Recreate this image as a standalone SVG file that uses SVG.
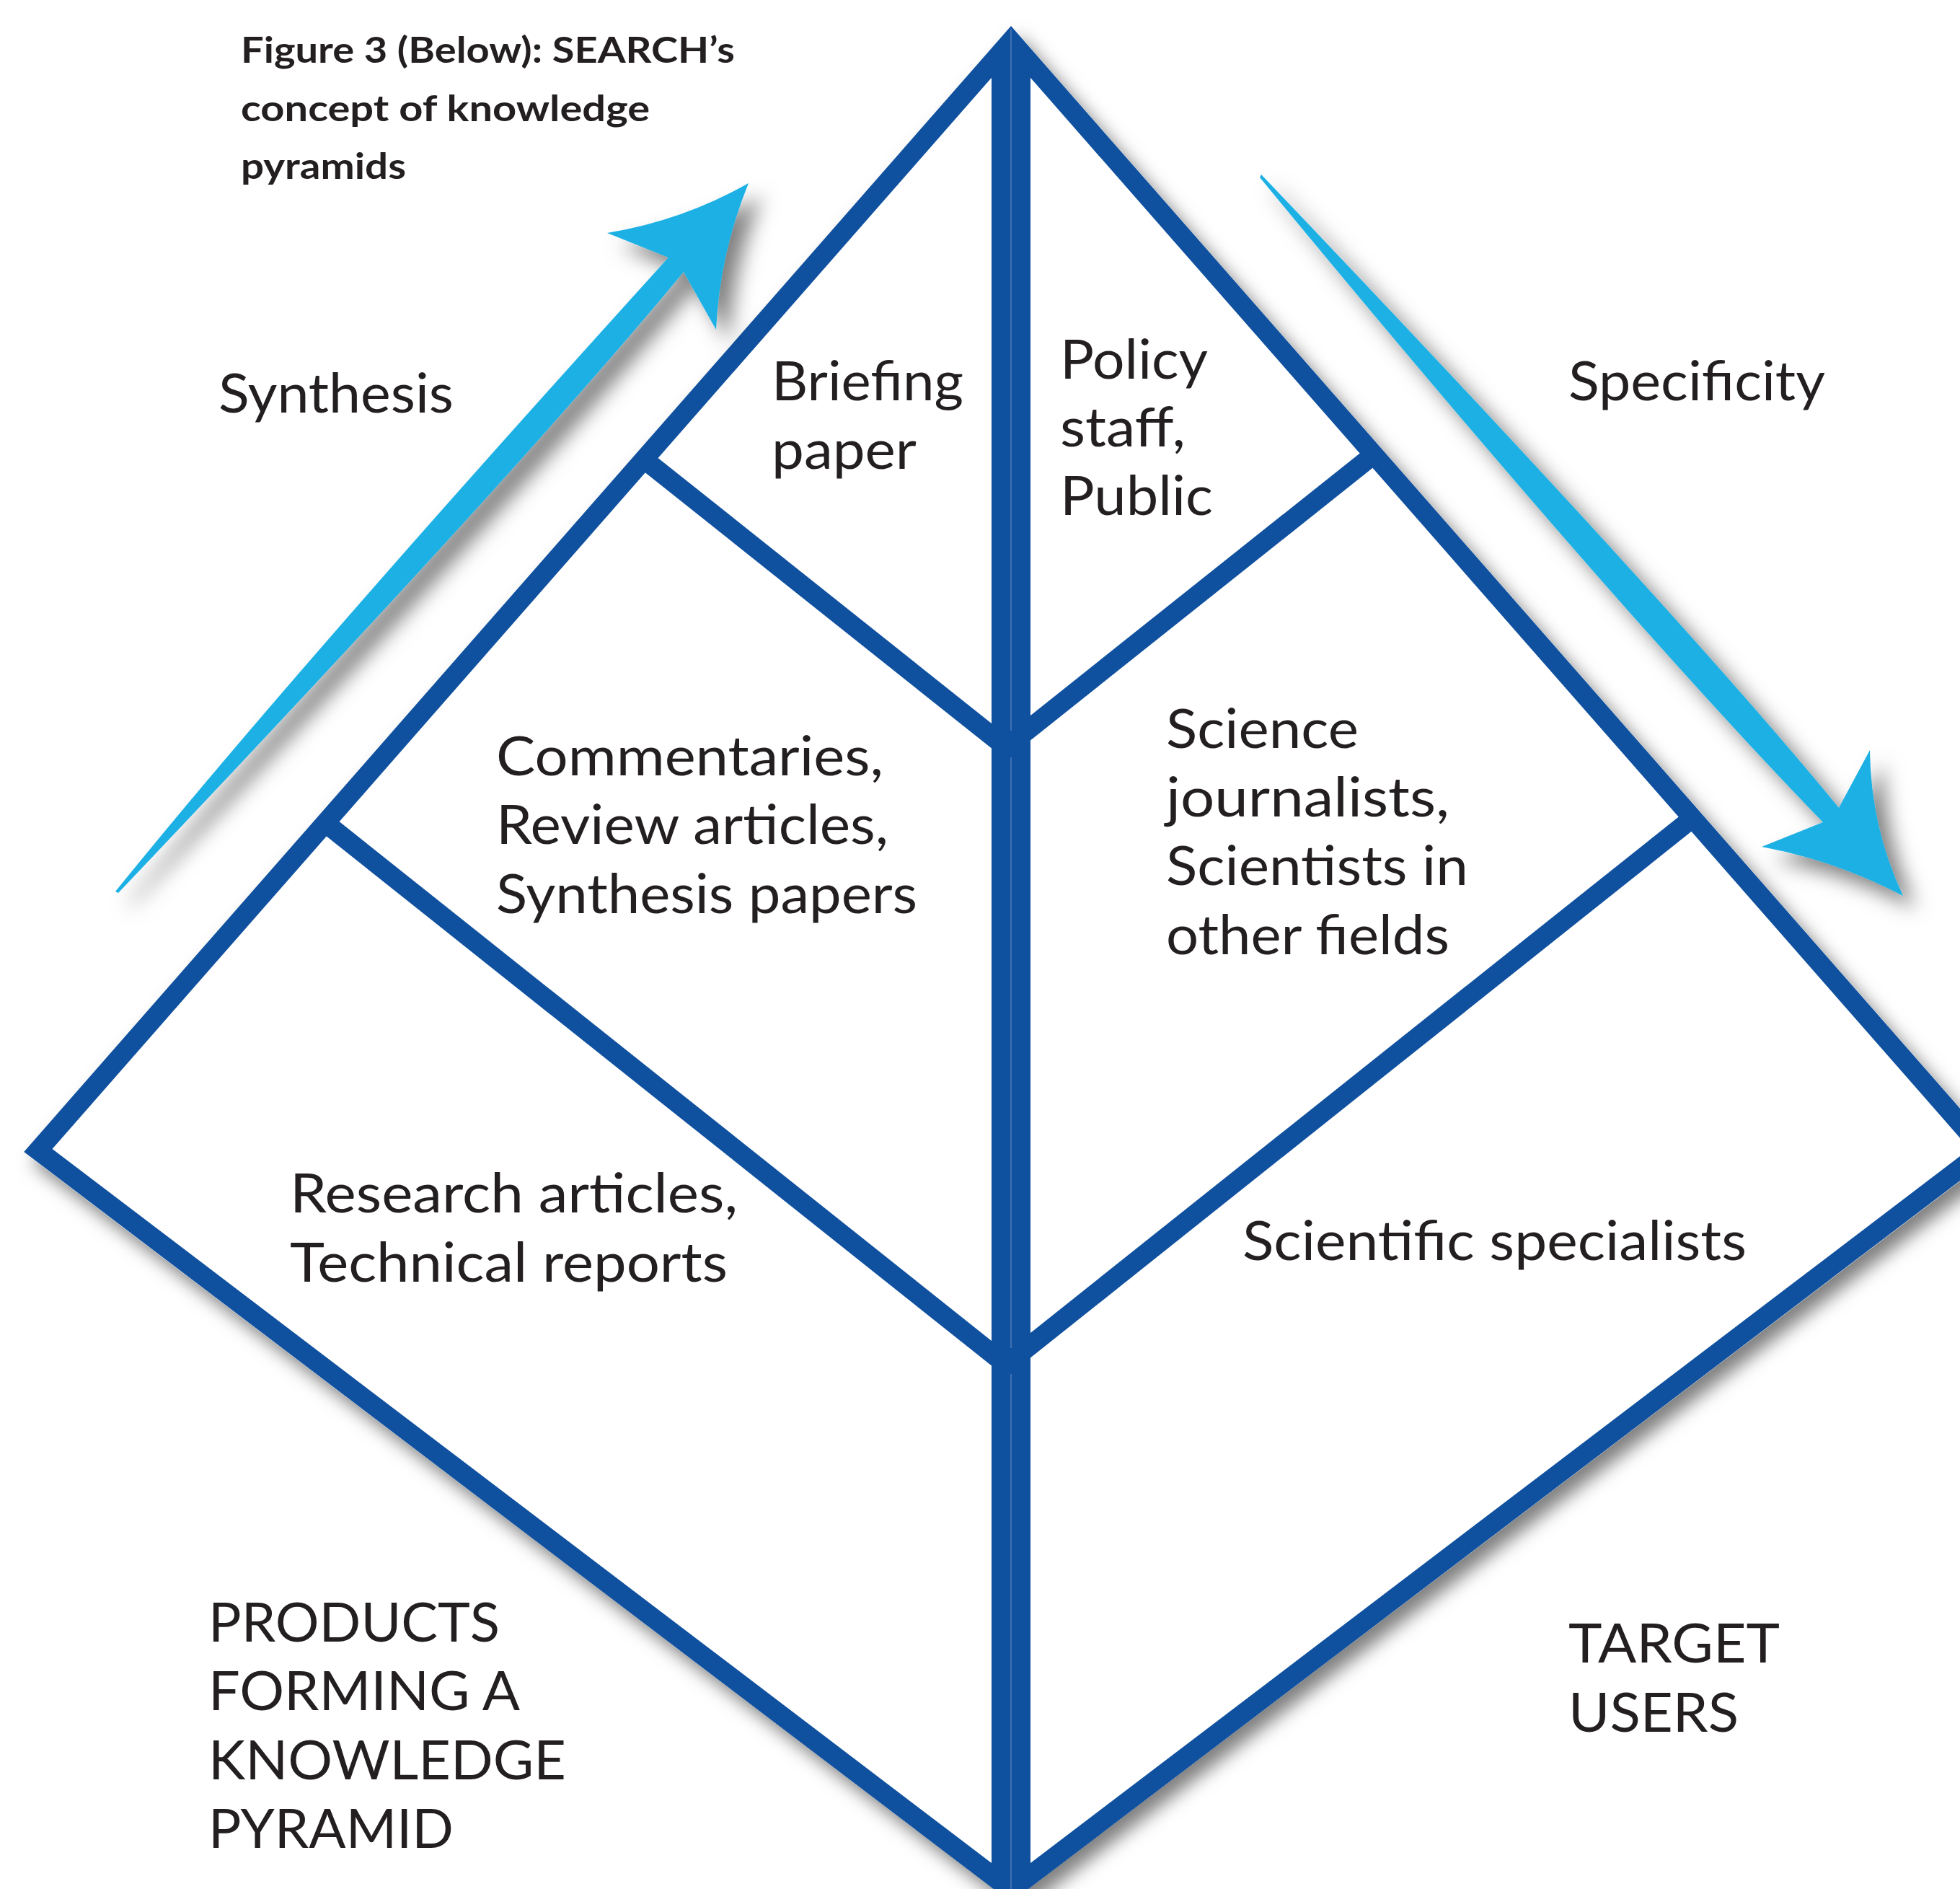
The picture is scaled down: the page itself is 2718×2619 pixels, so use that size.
<svg xmlns="http://www.w3.org/2000/svg" width="2718" height="2619" viewBox="0 0 2718 2619">
  <defs>
    <filter id="shadow" x="-10%" y="-10%" width="130%" height="130%">
      <feDropShadow dx="12" dy="15" stdDeviation="12" flood-color="#000" flood-opacity="0.5"/>
    </filter>
    <filter id="arrow-shadow" x="-20%" y="-20%" width="150%" height="150%">
      <feDropShadow dx="18" dy="18" stdDeviation="14" flood-color="#000" flood-opacity="0.5"/>
    </filter>
    <style>
      .edge { fill: none; stroke: #10519f; stroke-width: 27; stroke-linejoin: miter; stroke-miterlimit: 10; }
      .div { fill: none; stroke: #10519f; stroke-width: 27; stroke-linecap: butt; }
      .seam { stroke: #5f88c3; stroke-width: 1.2; }
      .arrow { fill: #1bb0e4; }
      .lbl { font-family: Lato, "Noto Sans", "Liberation Sans", sans-serif; font-size: 76px; fill: #231f20; }
      .cap { font-family: Lato, "Noto Sans", "Liberation Sans", sans-serif; font-size: 50px; font-weight: 700; fill: #231f20; }
    </style>
  </defs>

  <rect width="2718" height="2619" fill="#fff"/>

  <!-- caption -->
  <g id="caption">
    <text class="cap" x="334" y="87" textLength="685" lengthAdjust="spacingAndGlyphs">Figure 3 (Below): SEARCH’s</text>
    <text class="cap" x="334" y="168" textLength="567" lengthAdjust="spacingAndGlyphs">concept of knowledge</text>
    <text class="cap" x="334" y="248" textLength="229" lengthAdjust="spacingAndGlyphs">pyramids</text>
  </g>

  <!-- white body of the double pyramid, casting the soft shadow -->
  <path id="pyramid-body" d="M1402,36 L2771,1597 L1402,2637 L33,1597 Z" fill="#fff" filter="url(#shadow)"/>

  <!-- outer frames: products (left) and target users (right) -->
  <g id="frame">
    <path id="products-frame" class="edge" d="M1388.5,71.9 L52.9,1594.9 L1388.5,2610.2 Z"/>
    <path id="users-frame" class="edge" d="M1415.5,71.9 L2751.1,1594.9 L1415.5,2610.2 Z"/>
    <line class="seam" x1="1402" y1="40" x2="1402" y2="1013"/>
    <line class="seam" x1="1402" y1="1050" x2="1402" y2="1869"/>
    <line class="seam" x1="1402" y1="1905" x2="1402" y2="2619"/>
  </g>

  <!-- tier dividers -->
  <g id="connectors">
    <line class="div" x1="893.1" y1="636.7" x2="1388.5" y2="1031"/>
    <line class="div" x1="451.1" y1="1140.9" x2="1388.5" y2="1887"/>
    <line class="div" x1="1415.5" y1="1020" x2="1905.1" y2="630.2"/>
    <line class="div" x1="1415.5" y1="1876" x2="2347.2" y2="1134.3"/>
  </g>

  <!-- direction arrows: tapering swoosh shafts with concave-sided heads -->
  <g id="arrow-synthesis" filter="url(#arrow-shadow)">
    <path class="arrow" d="M160,1236 Q410,927 927,357 L842,323 Q946,306 1038,254 Q998,352 993,457 L948,377 Q720,653 164,1238 Z"/>
  </g>
  <g id="arrow-specificity" filter="url(#arrow-shadow)">
    <path class="arrow" d="M1749,242 Q2327,848 2550,1120 L2593,1040 Q2594,1146 2639,1242 Q2546,1193 2443,1174 L2528,1140 Q2236,839 1747,246 Z"/>
  </g>

  <!-- labels -->
  <g id="label-synthesis">
    <text class="lbl" x="303" y="572" textLength="326" lengthAdjust="spacingAndGlyphs">Synthesis</text>
  </g>
  <g id="label-specificity">
    <text class="lbl" x="2175" y="555" textLength="356" lengthAdjust="spacingAndGlyphs">Specificity</text>
  </g>

  <g id="tier-briefing">
    <text class="lbl" x="1070" y="555" textLength="266" lengthAdjust="spacingAndGlyphs">Briefing</text>
    <text class="lbl" x="1070" y="650" textLength="201" lengthAdjust="spacingAndGlyphs">paper</text>
  </g>
  <g id="tier-commentaries">
    <text class="lbl" x="688" y="1075" textLength="537" lengthAdjust="spacingAndGlyphs">Commentaries,</text>
    <text class="lbl" x="688" y="1170" textLength="544" lengthAdjust="spacingAndGlyphs">Review articles,</text>
    <text class="lbl" x="688" y="1266" textLength="584" lengthAdjust="spacingAndGlyphs">Synthesis papers</text>
  </g>
  <g id="tier-research">
    <text class="lbl" x="402" y="1681" textLength="621" lengthAdjust="spacingAndGlyphs">Research articles,</text>
    <text class="lbl" x="402" y="1777" textLength="607" lengthAdjust="spacingAndGlyphs">Technical reports</text>
  </g>

  <g id="users-policy">
    <text class="lbl" x="1470" y="525" textLength="205" lengthAdjust="spacingAndGlyphs">Policy</text>
    <text class="lbl" x="1470" y="619" textLength="174" lengthAdjust="spacingAndGlyphs">staff,</text>
    <text class="lbl" x="1470" y="714" textLength="212" lengthAdjust="spacingAndGlyphs">Public</text>
  </g>
  <g id="users-science">
    <text class="lbl" x="1617" y="1037" textLength="267" lengthAdjust="spacingAndGlyphs">Science</text>
    <text class="lbl" x="1617" y="1132" textLength="393" lengthAdjust="spacingAndGlyphs">journalists,</text>
    <text class="lbl" x="1617" y="1227" textLength="419" lengthAdjust="spacingAndGlyphs">Scientists in</text>
    <text class="lbl" x="1617" y="1323" textLength="393" lengthAdjust="spacingAndGlyphs">other fields</text>
  </g>
  <g id="users-specialists">
    <text class="lbl" x="1723" y="1747" textLength="699" lengthAdjust="spacingAndGlyphs">Scientific specialists</text>
  </g>

  <g id="heading-products">
    <text class="lbl" x="289" y="2276" textLength="404" lengthAdjust="spacingAndGlyphs">PRODUCTS</text>
    <text class="lbl" x="289" y="2371" textLength="432" lengthAdjust="spacingAndGlyphs">FORMING A</text>
    <text class="lbl" x="289" y="2467" textLength="496" lengthAdjust="spacingAndGlyphs">KNOWLEDGE</text>
    <text class="lbl" x="289" y="2562" textLength="340" lengthAdjust="spacingAndGlyphs">PYRAMID</text>
  </g>
  <g id="heading-users">
    <text class="lbl" x="2175" y="2305" textLength="293" lengthAdjust="spacingAndGlyphs">TARGET</text>
    <text class="lbl" x="2175" y="2401" textLength="236" lengthAdjust="spacingAndGlyphs">USERS</text>
  </g>
</svg>
